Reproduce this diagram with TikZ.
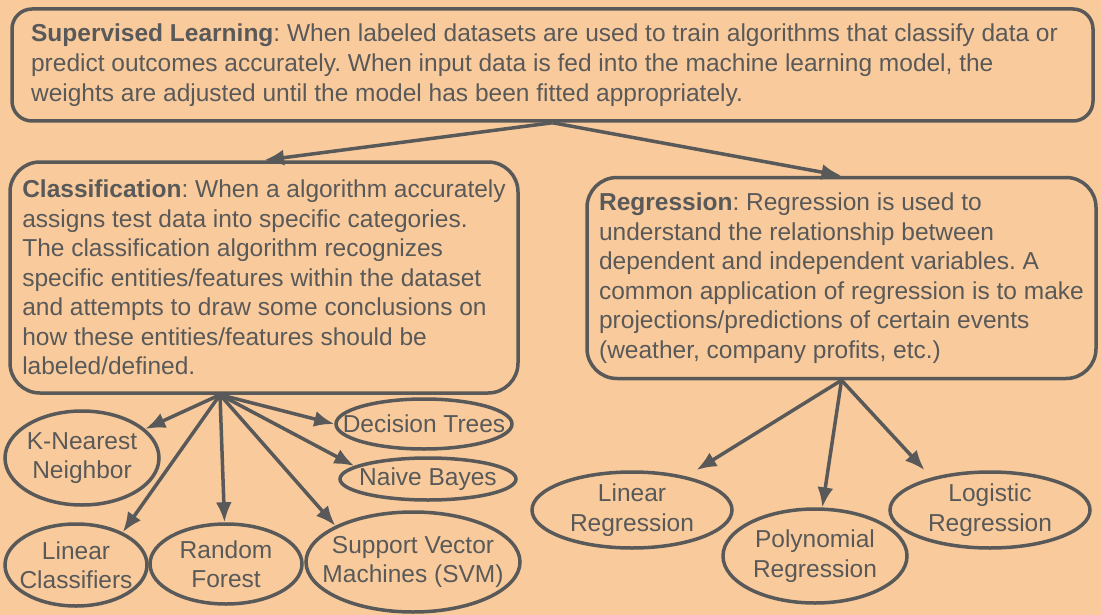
\documentclass[tikz,border=0pt]{standalone}
\usepackage{fontspec}
\setmainfont{Liberation Sans}
\usetikzlibrary{arrows.meta, shapes.geometric}
\definecolor{peach}{HTML}{F9CB9C}
\definecolor{slate}{HTML}{595959}
\frenchspacing

\begin{document}
\begin{tikzpicture}[
    x=1pt, y=-1pt, >={Latex[length=20pt, width=16pt]}, ->, line width=3.5pt, color=slate,
    every node/.style={draw=slate, text=slate, font=\fontsize{24.5pt}{29.5pt}\selectfont},
    descbox/.style={rectangle, rounded corners=30pt, align=left, inner xsep=0pt},
    algo/.style={ellipse, align=center, inner sep=-30pt}
]
\path[use as bounding box, fill=peach, -] (0,0) rectangle (1102,615);

% description boxes
\node (supervised_learning) [descbox, rounded corners=20pt, minimum width=1081pt, minimum height=112pt, font=\fontsize{24.5pt}{30pt}\selectfont] at (552.5,65) {\textbf{Supervised Learning}: When labeled datasets are used to train algorithms that classify data or\hspace*{16pt}\\ predict outcomes accurately. When input data is fed into the machine learning model, the\\ weights are adjusted until the model has been fitted appropriately.};
\node (classification) [descbox, minimum width=508pt, minimum height=231pt] at (264,277.5) {\textbf{Classification}: When a algorithm accurately\\ assigns test data into specific categories.\\ The classification algorithm recognizes\\ specific entities/features within the dataset\\ and attempts to draw some conclusions on\\ how these entities/features should be\\ labeled/defined.};
\node (regression) [descbox, minimum width=509pt, minimum height=201pt] at (841.5,278) {\textbf{Regression}: Regression is used to\\ understand the relationship between\\ dependent and independent variables. A\\ common application of regression is to make\\ projections/predictions of certain events\\ (weather, company profits, etc.)};

% classification algorithms
\node (k_nearest) [algo, minimum width=154pt, minimum height=94pt] at (82,458) {K-Nearest\\Neighbor};
\node (decision_trees) [algo, minimum width=176pt, minimum height=50pt] at (424,424) {Decision Trees};
\node (naive_bayes) [algo, minimum width=176pt, minimum height=42pt] at (428,479) {Naive Bayes};
\node (linear_classifiers) [algo, minimum width=142pt, minimum height=82pt] at (76,565) {Linear\\Classifiers};
\node (random_forest) [algo, minimum width=152pt, minimum height=80pt] at (226,564) {Random\\Forest};
\node (svm) [algo, minimum width=214pt, minimum height=100pt] at (413,562) {Support Vector\\Machines (SVM)};

% regression algorithms
\node (linear_regression) [algo, minimum width=200pt, minimum height=76pt] at (632,510) {Linear\\Regression};
\node (polynomial_regression) [algo, minimum width=184pt, minimum height=94pt] at (815,556) {Polynomial\\Regression};
\node (logistic_regression) [algo, minimum width=200pt, minimum height=76pt] at (990,510) {Logistic\\Regression};

\draw (supervised_learning.south) -- (classification.north);
\draw (supervised_learning.south) -- (regression.north);
\draw ([xshift=-44pt]classification.south) -- (k_nearest);
\draw ([xshift=-44pt]classification.south) -- (decision_trees.west);
\draw ([xshift=-44pt]classification.south) -- (naive_bayes.170);
\draw ([xshift=-44pt]classification.south) -- (linear_classifiers.35);
\draw ([xshift=-44pt]classification.south) -- (random_forest);
\draw ([xshift=-44pt]classification.south) -- (svm.155);
\draw[shorten >=12pt] (regression.south) -- (linear_regression);
\draw (regression.south) -- (polynomial_regression);
\draw[shorten >=10pt] (regression.south) -- (logistic_regression.151);
\end{tikzpicture}
\end{document}
